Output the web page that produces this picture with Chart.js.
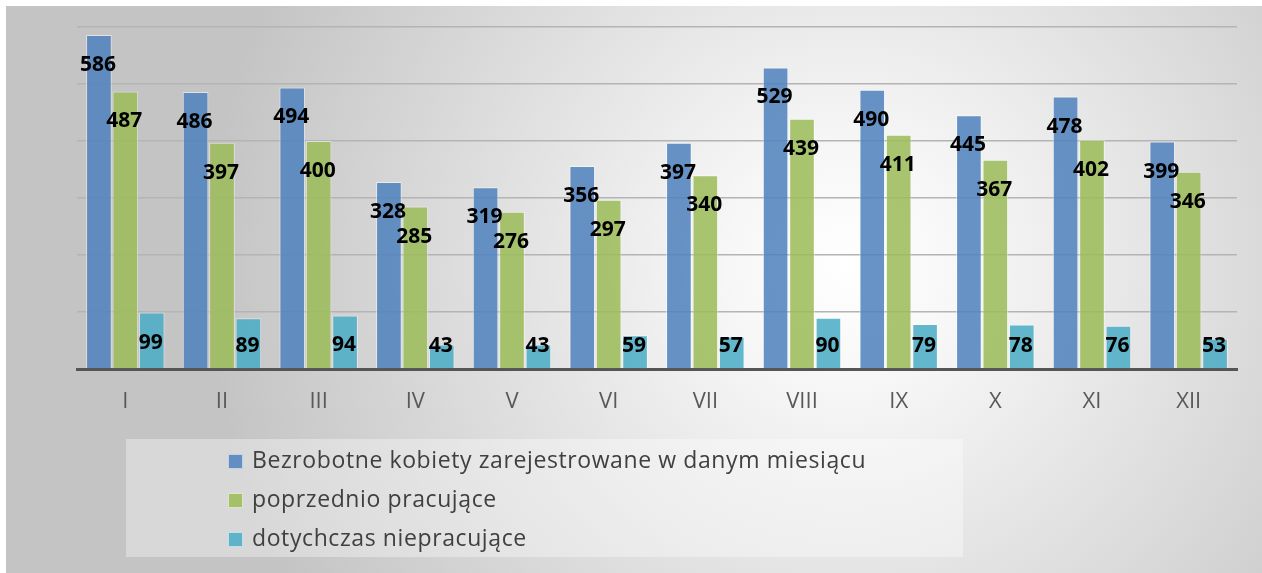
<!DOCTYPE html>
<html lang="pl">

<head>
    <meta charset="UTF-8">
    <script src="https://cdn.jsdelivr.net/npm/chart.js@4/dist/chart.umd.min.js"></script>
    <title>Bezrobotne kobiety</title>
    <style>
        html, body { margin: 0; padding: 0; background: #ffffff; }
        .ramka {
            position: absolute; left: 6px; top: 6px; width: 1256px; height: 567px;
            background: radial-gradient(circle 640px at 840px 260px, #ffffff 0%, #f7f7f7 18%, #c4c4c4 100%);
        }
        .ramka canvas { position: absolute; left: 0; top: 0; }
        .legenda {
            position: absolute; left: 120px; top: 433px; width: 837px; height: 118px;
            background: rgba(255, 255, 255, 0.35);
            font-family: "Open Sans", sans-serif; font-size: 23px; letter-spacing: 0.6px; color: #404040;
        }
        .legenda div { position: absolute; left: 102px; height: 30px; line-height: 30px; white-space: nowrap; }
        .legenda span.kw { display: inline-block; width: 15px; height: 15px; margin-right: 9px; vertical-align: -1px; border: 1px solid rgba(255,255,255,0.6); box-sizing: border-box; }
    </style>
</head>

<body>
    <div class="ramka">
        <canvas id="wykres" width="1256" height="567"></canvas>
        <div class="legenda" id="legenda"></div>
    </div>

<script>
    // miesiace
    var miesiace = ['I', 'II', 'III', 'IV', 'V', 'VI', 'VII', 'VIII', 'IX', 'X', 'XI', 'XII'];

    // dane
    var zarejestrowane = [586, 486, 494, 328, 319, 356, 397, 529, 490, 445, 478, 399];
    var poprzednioPracujace = [487, 397, 400, 285, 276, 297, 340, 439, 411, 367, 402, 346];
    var dotychczasNiepracujace = [99, 89, 94, 43, 43, 59, 57, 90, 79, 78, 76, 53];

    var nazwySerii = ['Bezrobotne kobiety zarejestrowane w danym miesiącu', 'poprzednio pracujące', 'dotychczas niepracujące'];
    var kolory = ['rgba(79, 129, 189, 0.86)', 'rgba(155, 187, 89, 0.86)', 'rgba(75, 172, 198, 0.86)'];

    /* etykiety z wartosciami na slupkach */
    var etykiety = {
        id: 'etykiety',
        afterDatasetsDraw: function (chart) {
            var ctx = chart.ctx;
            var dol = chart.chartArea.bottom;
            ctx.save();
            ctx.font = 'bold 21px "Open Sans", sans-serif';
            ctx.fillStyle = '#000000';
            ctx.textAlign = 'center';
            ctx.textBaseline = 'middle';
            chart.data.datasets.forEach(function (ds, i) {
                chart.getDatasetMeta(i).data.forEach(function (bar, j) {
                    var y = Math.min(bar.y + 30, dol - 23);
                    ctx.fillText(ds.data[j], bar.x - 1, y);
                });
            });
            ctx.restore();
        }
    };

    var ctx = wykres.getContext('2d');
    var myChart = new Chart(ctx, {
        type: 'bar',
        data: {
            labels: miesiace,
            datasets: [{
                label: nazwySerii[0],
                data: zarejestrowane,
                backgroundColor: kolory[0],
                borderColor: 'rgba(255, 255, 255, 0.5)',
                borderWidth: 1
            }, {
                label: nazwySerii[1],
                data: poprzednioPracujace,
                backgroundColor: kolory[1],
                borderColor: 'rgba(255, 255, 255, 0.5)',
                borderWidth: 1
            }, {
                label: nazwySerii[2],
                data: dotychczasNiepracujace,
                backgroundColor: kolory[2],
                borderColor: 'rgba(255, 255, 255, 0.5)',
                borderWidth: 1
            }]
        },
        options: {
            responsive: false,
            animation: false,
            layout: { padding: { left: 71, right: 25, top: 21, bottom: 0 } },
            datasets: { bar: { categoryPercentage: 0.82, barPercentage: 0.97 } },
            plugins: {
                legend: { display: false },
                tooltip: { enabled: false }
            },
            scales: {
                x: {
                    grid: { display: false },
                    border: { display: true, color: '#555555', width: 3 },
                    ticks: { color: '#595959', padding: 12, font: { family: 'Open Sans', size: 22 } },
                    afterFit: function (s) { s.height = 204; }
                },
                y: {
                    min: 0,
                    max: 600,
                    ticks: { display: false, stepSize: 100 },
                    grid: { color: '#b4b4b4', lineWidth: 1.5, drawTicks: false },
                    border: { display: false },
                    afterFit: function (s) { s.width = 0; }
                }
            }
        },
        plugins: [etykiety]
    });

    /* Legenda */
    var legenda = document.getElementById('legenda');
    myChart.data.datasets.forEach(function (ds, i) {
        var wiersz = document.createElement('div');
        wiersz.style.top = (5 + i * 39) + 'px';
        var kw = document.createElement('span');
        kw.className = 'kw';
        kw.style.background = ds.backgroundColor;
        wiersz.appendChild(kw);
        wiersz.appendChild(document.createTextNode(ds.label));
        legenda.appendChild(wiersz);
    });
</script>
</body>

</html>
